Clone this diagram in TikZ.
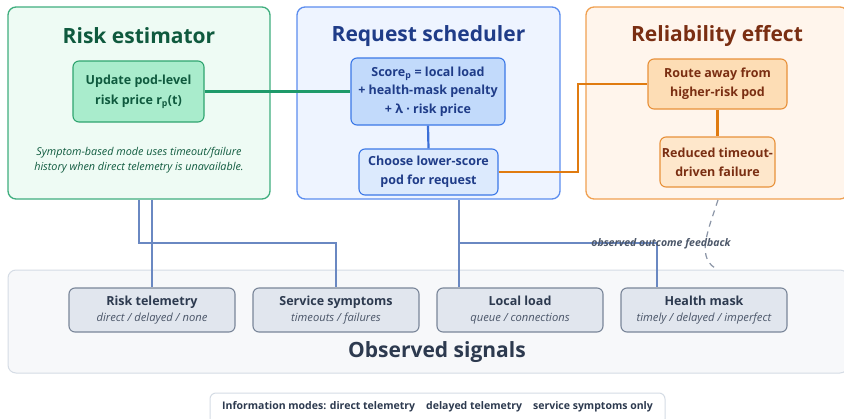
\documentclass[tikz,border=0pt]{standalone}
\usepackage{fontspec}
\setmainfont{Open Sans}
\newcommand\subtfont{\fontsize{11.2}{14}\selectfont\itshape\mdseries}
\definecolor{gPanelF}{HTML}{EEFBF4}
\definecolor{gPanelD}{HTML}{3FAE7E}
\definecolor{gText}{HTML}{0F5A3E}
\definecolor{gBoxF}{HTML}{A9ECCC}
\definecolor{gBoxD}{HTML}{2FA46F}
\definecolor{gLine}{HTML}{1E9A6A}
\definecolor{bPanelF}{HTML}{EEF4FF}
\definecolor{bPanelD}{HTML}{5B8DEF}
\definecolor{bText}{HTML}{1F3C88}
\definecolor{bBoxF}{HTML}{C2DAFB}
\definecolor{bBoxD}{HTML}{3B78E7}
\definecolor{bLine}{HTML}{3B6FD8}
\definecolor{oPanelF}{HTML}{FFF5EC}
\definecolor{oPanelD}{HTML}{F0A050}
\definecolor{oText}{HTML}{7A2E12}
\definecolor{oBoxF}{HTML}{FDDDB5}
\definecolor{oBoxD}{HTML}{E8913A}
\definecolor{oLine}{HTML}{E07B10}
\definecolor{sPanelF}{HTML}{F7F8FA}
\definecolor{sPanelD}{HTML}{D5DCE5}
\definecolor{sBoxF}{HTML}{E1E6EE}
\definecolor{sBoxD}{HTML}{7A8699}
\definecolor{sText}{HTML}{2D3A4F}
\definecolor{sSub}{HTML}{4A5568}
\definecolor{cLine}{HTML}{6A88C2}
\definecolor{dLine}{HTML}{8A94A6}
\begin{document}
\begin{tikzpicture}[x=1pt,y=-1pt,
  panel/.style={rounded corners=8pt,line width=1.3pt,inner sep=0pt},
  box/.style={rounded corners=6pt,line width=1.1pt,align=center,inner sep=0pt,font=\fontsize{12.5}{19}\selectfont\bfseries},
  ptitle/.style={font=\fontsize{21}{24}\selectfont\bfseries},
  sig/.style={box,fill=sBoxF,draw=sBoxD,minimum width=166pt,minimum height=44pt,text=sText,font=\fontsize{12.5}{16}\selectfont},
  conn/.style={cLine,line width=1.4pt}
]
\useasboundingbox (0,0) rectangle (844,418);
\fill[white] (0,0) rectangle (844,418);

% Panels
\node[panel,fill=gPanelF,draw=gPanelD,minimum width=262pt,minimum height=192pt] (est) at (139,103) {};
\node[panel,fill=bPanelF,draw=bPanelD,minimum width=263pt,minimum height=192pt] (sched) at (428.5,103) {};
\node[panel,fill=oPanelF,draw=oPanelD,minimum width=262pt,minimum height=192pt] (rel) at (717,103) {};
\node[panel,fill=sPanelF,draw=sPanelD,line width=1pt,minimum width=840pt,minimum height=103pt] (obs) at (428,321.5) {};

% Titles
\node[ptitle,text=gText] (estT) at (139,36) {Risk estimator};
\node[ptitle,text=bText] (schedT) at (428.5,36) {Request scheduler};
\node[ptitle,text=oText] (relT) at (717,36) {Reliability effect};
\node[ptitle,text=sText] (obsT) at (437,352) {Observed signals};

% Inner boxes
\node[box,fill=gBoxF,draw=gBoxD,text=gText,minimum width=131pt,minimum height=61pt,font=\fontsize{12.5}{20.5}\selectfont\bfseries] (upd) at (138.5,91.5) {Update pod-level\\risk price r\textsubscript{p}(t)};
\node[font=\fontsize{10.8}{15}\selectfont\itshape,text=gText,align=center] (note) at (139,160) {Symptom-based mode uses timeout/failure\\history when direct telemetry is unavailable.};
\node[box,fill=bBoxF,draw=bBoxD,text=bText,minimum width=154pt,minimum height=67pt,font=\fontsize{12.5}{18.5}\selectfont\bfseries] (score) at (428,91.5) {Score\textsubscript{p} = local load\\+ health-mask penalty\\+ λ · risk price};
\node[box,fill=bPanelF!60!bBoxF,draw=bBoxD,text=bText,minimum width=139pt,minimum height=46pt] (choose) at (428.5,172) {Choose lower-score\\pod for request};
\node[box,fill=oBoxF,draw=oBoxD,text=oText,minimum width=139pt,minimum height=50pt] (route) at (717.5,84) {Route away from\\higher-risk pod};
\node[box,fill=oBoxF!60!oPanelF,draw=oBoxD,text=oText,minimum width=115pt,minimum height=50pt] (red) at (717.5,162) {Reduced timeout-\\driven failure};

% Signal boxes
\node[sig] (rt) at (152,310) {\textbf{Risk telemetry}\\{\subtfont\color{sSub} direct / delayed / none}};
\node[sig] (ss) at (336,310) {\textbf{Service symptoms}\\{\subtfont\color{sSub} timeouts / failures}};
\node[sig] (ll) at (520,310) {\textbf{Local load}\\{\subtfont\color{sSub} queue / connections}};
\node[sig] (hm) at (704,310) {\textbf{Health mask}\\{\subtfont\color{sSub} timely / delayed / imperfect}};

% Legend
\node[rounded corners=6pt,draw=sPanelD,fill=white,line width=1pt,minimum width=455pt,minimum height=32pt,inner sep=0pt] (leg) at (437.5,409) {};
\node[font=\fontsize{10.5}{12}\selectfont\bfseries,text=sText] (legT) at (437.5,407) {Information modes: direct telemetry\hspace{11pt}delayed telemetry\hspace{11pt}service symptoms only};

% Connectors inside panels
\draw[gLine,line width=2.4pt] (upd.east) -- (score.west);
\draw[bLine,line width=2.2pt] (score.south) -- (choose.north);
\coordinate (ob) at (578,0);
\draw[oLine,line width=2.4pt] (choose.east) -- (choose.east -| ob) |- (route.west);
\draw[oLine,line width=2.4pt] (route.south) -- (red.north);

% Signal connectors
\coordinate (xa) at (152,0);
\coordinate (xb) at (139,243);
\coordinate (xc) at (459,243);
\coordinate (xd) at (657,0);
\draw[conn] (est.south -| xa) -- (rt.north);
\draw[conn] (est.south -| xb) -- (xb) -| (ss.north);
\draw[conn] (sched.south -| xc) -- (ll.north -| xc);
\draw[conn] (xc) -- (xc -| xd) -- (hm.north -| xd);

% Feedback
\coordinate (fb0) at (718,200);
\coordinate (fb1) at (715,268);
\draw[dLine,line width=1.2pt,dash pattern=on 6pt off 5pt] (fb0) .. controls (709,228) and (696,256) .. (fb1);
\node[font=\fontsize{10.5}{12}\selectfont\bfseries\itshape,text=sText!85!white] (fbT) at (661,244) {observed outcome feedback};
\end{tikzpicture}
\end{document}
